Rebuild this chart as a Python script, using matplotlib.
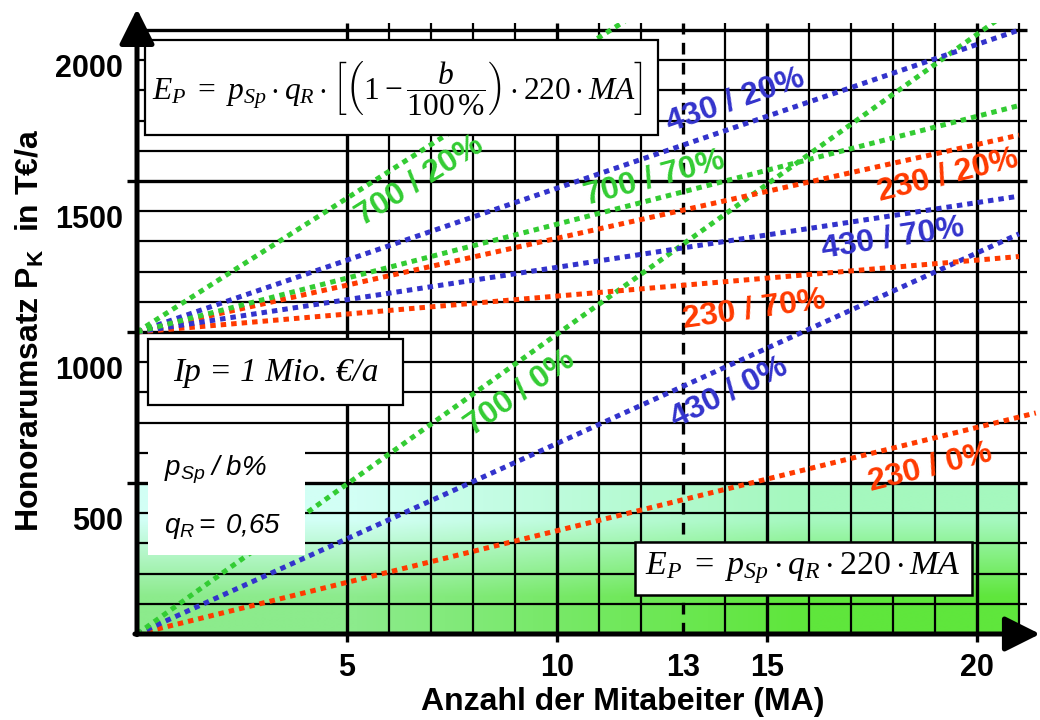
import numpy as np
import matplotlib.pyplot as plt
from matplotlib.patches import Rectangle
from matplotlib.transforms import ScaledTranslation

plt.rcParams['font.family'] = ['Liberation Sans', 'DejaVu Sans']
plt.rcParams['mathtext.fontset'] = 'custom'
plt.rcParams['mathtext.rm'] = 'Liberation Serif'
plt.rcParams['mathtext.it'] = 'Liberation Serif:italic'
plt.rcParams['mathtext.bf'] = 'Liberation Sans:bold'
plt.rcParams['mathtext.sf'] = 'Liberation Sans:italic'

RED = "#ff3a00"
BLUE = "#3333cc"
GREEN = "#33cc33"

# Honorarumsatz P_K (T€/a) over Mitarbeiter, one line per p_Sp / b%
line_labels = ["230 / 0%", "430 / 0%", "700 / 0%",
               "230 / 20%", "430 / 20%", "700 / 20%",
               "230 / 70%", "430 / 70%", "700 / 70%"]
line_colors = [RED, BLUE, GREEN, RED, BLUE, GREEN, RED, BLUE, GREEN]
ma_start = [0, 0, 0, 0, 0, 0, 0, 0, 0]
ma_end = [21.4, 21, 21, 21, 21, 21, 21, 21, 21]
pk_start = [0, 0, 0, 1000, 1000, 1000, 1000, 1000, 1000]
pk_end = [732, 1325, 2085, 1652, 2000, 2862, 1250, 1450, 1750]

# where the line names sit (MA, P_K) and their tilt
label_ma = [18.88, 14.1, 9.12, 19.31, 14.24, 6.74, 14.69, 18.0, 12.33]
label_pk = [550, 798, 798, 1520, 1768, 1503, 1073, 1311, 1510]
label_rot = [14, 26, 35, 14, 19, 32, 8, 9, 15]

x_ticks = [5, 10, 13, 15, 20]
y_ticks = [500, 1000, 1500, 2000]
ma_mark = 13

fig = plt.figure(figsize=(10.4, 7.2), dpi=100)
ax = fig.add_axes([137 / 1040, 86 / 720, 903 / 1040, 611.5 / 720])
ax.set_xlim(0, 21.5)
ax.set_ylim(0, 2025)
for s in ax.spines.values():
    s.set_visible(False)

# green shaded band below 500
grad = np.array([[[140, 235, 140], [95, 230, 60]],
                 [[210, 255, 245], [165, 248, 190]]]) / 255.0
ax.imshow(grad, extent=(0, 21, 0, 500), origin='lower', aspect='auto',
          interpolation='bilinear', zorder=0)

# grid
for yv in range(100, 2001, 100):
    ax.plot([0, 21.2], [yv, yv], color='black',
            lw=2.4 if yv % 500 == 0 else 1.6, zorder=1, solid_capstyle='butt')
for xv in range(5, 22):
    if xv == ma_mark:
        continue
    ax.plot([xv, xv], [0, 2025], color='black',
            lw=2.4 if xv % 5 == 0 else 1.6, zorder=1, solid_capstyle='butt')
ax.plot([ma_mark, ma_mark], [0, 2025], color='black', lw=2.4,
        dashes=(3.5, 2.5), zorder=2)

# dotted lines
for i in range(len(line_labels)):
    ax.plot([ma_start[i], ma_end[i]], [pk_start[i], pk_end[i]],
            color=line_colors[i], lw=3.6, dashes=(1.1, 1.0), zorder=3)
    ax.text(label_ma[i], label_pk[i], line_labels[i], color=line_colors[i],
            fontsize=23, fontweight='bold', rotation=label_rot[i],
            rotation_mode='anchor', ha='center', va='center', zorder=8)

# boxes
ax.add_patch(Rectangle((0.19, 1652), 12.21, 315, fc='white', ec='black',
                       lw=1.6, zorder=5))
ax.text(6.2, 1808,
        r"$E_P\ =\ p_{Sp}\cdot q_R\cdot\left[\left(1-\dfrac{b}{100\,\%}\right)\cdot 220\cdot MA\right]$",
        fontsize=22.7, ha='center', va='center', zorder=6)

ax.add_patch(Rectangle((0.26, 758), 6.07, 219, fc='white', ec='black',
                       lw=1.6, zorder=5))
ax.text(3.3, 866, "Ip = 1 Mio. €/a", family='Liberation Serif',
        style='italic', fontsize=24, ha='center', va='center', zorder=6)

ax.add_patch(Rectangle((0.26, 262), 3.74, 344, fc='white', ec='none', zorder=5))
ax.text(0.65, 543, r"$\mathsf{p_{Sp}\ /\ b\%}$", fontsize=20,
        ha='left', va='center', zorder=6)
ax.text(0.65, 357, r"$\mathsf{q_R{=}\ 0{,}65}$", fontsize=20,
        ha='left', va='center', zorder=6)

ax.add_patch(Rectangle((11.86, 129), 8.02, 176, fc='white', ec='black',
                       lw=1.8, zorder=5))
ax.text(15.85, 219, r"$E_P\ =\ p_{Sp}\cdot q_R\cdot 220\cdot MA$",
        fontsize=24.5, ha='center', va='center', zorder=6)

# axes with arrow heads
arrow = dict(arrowstyle='-|>,head_length=1.0,head_width=0.5', lw=3.6,
             color='black', mutation_scale=21.6, shrinkA=0, shrinkB=0)
ax.annotate('', xy=(0, 2070), xytext=(0, -2), arrowprops=arrow,
            annotation_clip=False, zorder=9)
ax.annotate('', xy=(21.5, 0), xytext=(-0.05, 0), arrowprops=arrow,
            annotation_clip=False, zorder=9)

# ticks
ax.set_xticks(x_ticks)
ax.set_xticklabels([str(v) for v in x_ticks], fontsize=22, fontweight='bold')
ax.set_yticks(y_ticks)
ax.set_yticklabels([str(v) for v in y_ticks], fontsize=22, fontweight='bold')
ax.tick_params(axis='x', direction='out', length=6, width=2.4, pad=8)
ax.tick_params(axis='y', direction='out', length=7, width=2.4, pad=3)
ax.xaxis.get_major_ticks()[2].tick1line.set_visible(False)
shift = ScaledTranslation(0, -0.35, fig.dpi_scale_trans)
for lab in ax.get_yticklabels():
    lab.set_transform(lab.get_transform() + shift)

fig.text(623 / 1040, 1 - 702 / 720, "Anzahl der Mitabeiter (MA)",
         fontsize=23, fontweight='bold', ha='center', va='center')
fig.text(30 / 1040, 1 - 330 / 720, r"Honorarumsatz $\mathbf{P_K}$  in T€/a",
         fontsize=23, fontweight='bold', rotation=90, ha='center', va='center')

fig.savefig("out.png", dpi=100)
